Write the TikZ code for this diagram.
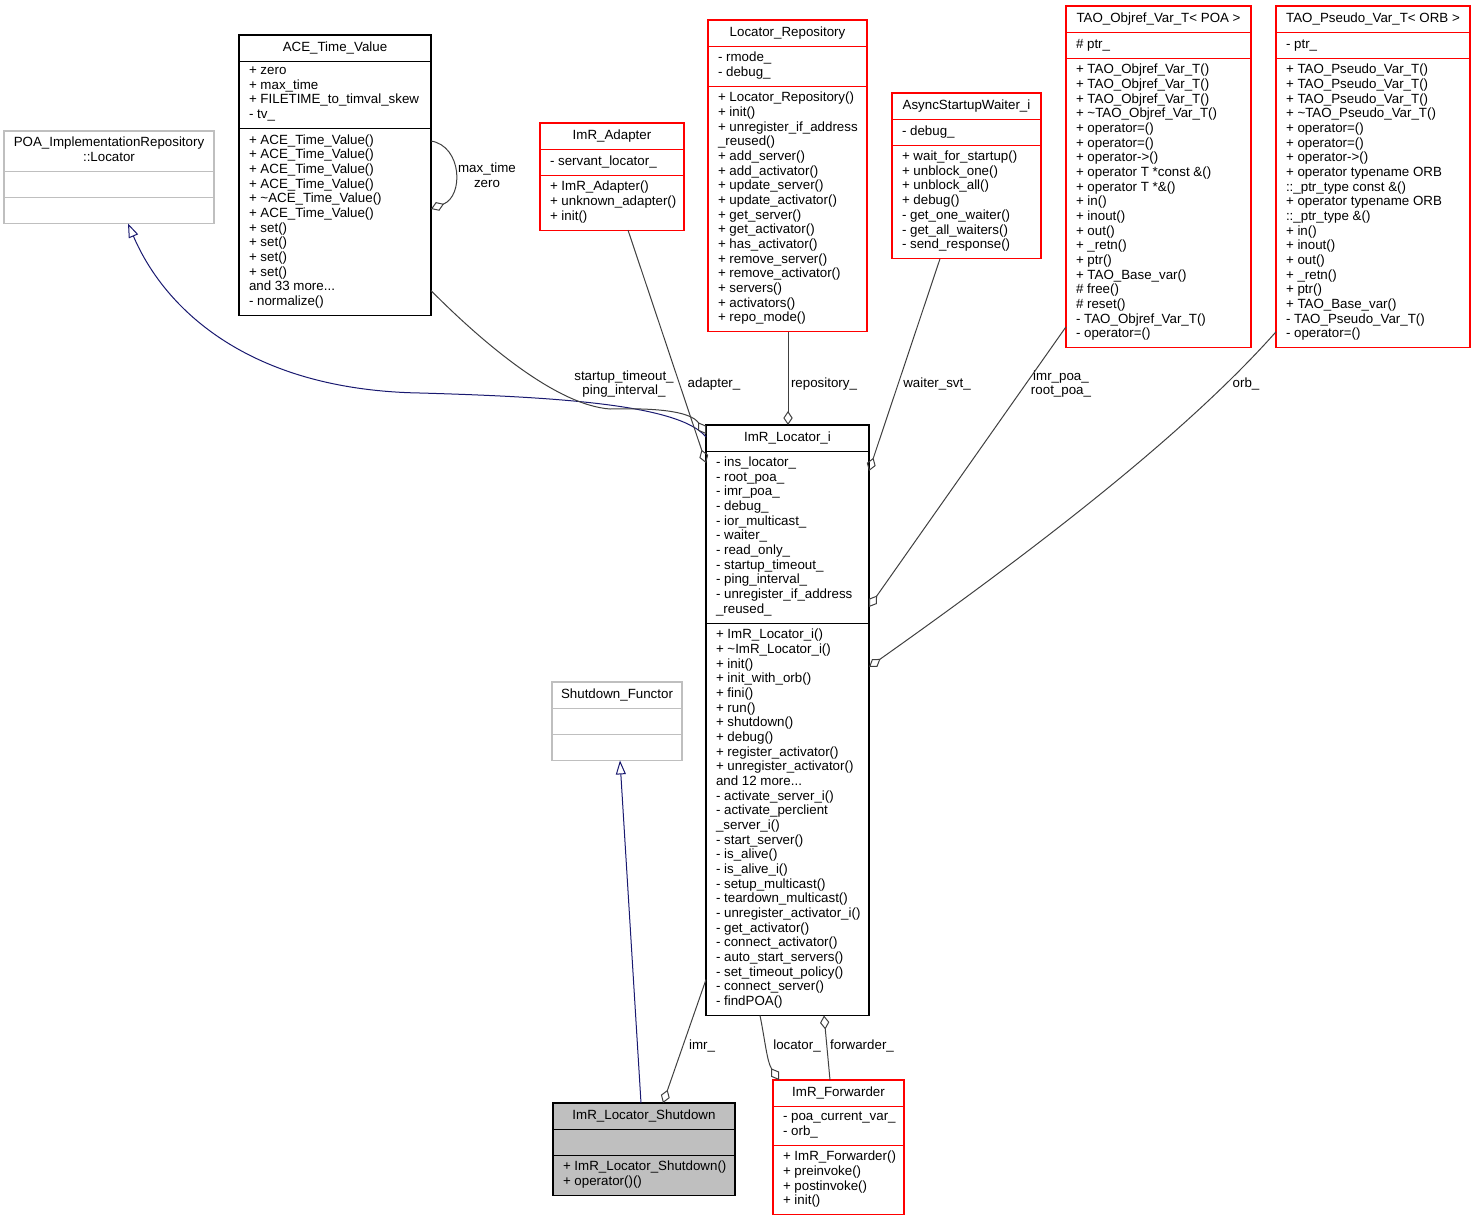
\documentclass[tikz,border=0pt]{standalone}
\usepackage{fontspec}
\setmainfont{Liberation Sans}
\usetikzlibrary{positioning,arrows.meta,calc,fit}
\definecolor{clsred}{HTML}{FF0000}
\definecolor{clsgrey}{HTML}{BFBFBF}
\definecolor{selfill}{HTML}{BFBFBF}
\definecolor{edgegrey}{HTML}{404040}
\definecolor{navyblue}{HTML}{191970}
\pgfdeclarelayer{bg}
\pgfsetlayers{bg,main}

% class box: #1 look, #2 name, #3 x, #4 y, #5 width, #6 title, #7 attributes, #8 methods
\newcommand{\umlclass}[8][]{%
  \coordinate (#2-nw) at (#3,#4);
  \node[ctitle] (#2-t) at (#3+#5/2,#4) {#6};
  \node[ctext] (#2-a) at (#2-t.south -| #2-nw) {#7};
  \node[ctext] (#2-m) at (#2-a.south -| #2-nw) {#8};
  \begin{pgfonlayer}{bg}
    \node[cbox,#1,fit={(#2-nw) (#3+#5,#4) (#2-m.south -| #2-nw)}] (#2) {};
  \end{pgfonlayer}
  \draw[cline,#1] (#2-t.south -| #2.west) -- (#2-t.south -| #2.east);
  \draw[cline,#1] (#2-a.south -| #2.west) -- (#2-a.south -| #2.east);
}

\begin{document}
\begin{tikzpicture}[x=0.75pt, y=-0.75pt,
  ctitle/.style={anchor=north, align=center, inner xsep=0pt, inner ysep=4.3pt, outer sep=0pt,
    font=\fontsize{10}{11}\selectfont, execute at begin node=\strut, execute at end node=\strut},
  ctext/.style={anchor=north west, align=left, inner xsep=7.5pt, inner ysep=4.3pt, outer sep=0pt,
    font=\fontsize{10}{11}\selectfont, execute at begin node=\strut, execute at end node=\strut},
  cbox/.style={draw=black, line width=0.8pt, inner sep=0pt, outer sep=0pt},
  cline/.style={draw=black, line width=0.8pt},
  redcls/.style={draw=clsred},
  greycls/.style={draw=clsgrey},
  selcls/.style={draw=black, fill=selfill},
  member/.style={draw=edgegrey, line width=0.75pt, -{Diamond[open, length=10.5pt, width=7pt]}},
  inherit/.style={draw=navyblue, line width=0.75pt, -{Triangle[open, length=10.5pt, width=7.5pt]}},
  elabel/.style={align=center, inner sep=0pt, font=\fontsize{10}{11}\selectfont}]
\useasboundingbox (0,0) rectangle (1476,1221);

\umlclass[greycls]{poa}{4}{131}{210}{POA\_ImplementationRepository\\::Locator}{}{}
\umlclass{ace}{239}{35}{192}{ACE\_Time\_Value}
  {+ zero\\+ max\_time\\+ FILETIME\_to\_timval\_skew\\- tv\_}
  {+ ACE\_Time\_Value()\\+ ACE\_Time\_Value()\\+ ACE\_Time\_Value()\\+ ACE\_Time\_Value()\\
   + \textasciitilde ACE\_Time\_Value()\\+ ACE\_Time\_Value()\\+ set()\\+ set()\\+ set()\\+ set()\\
   and 33 more...\\- normalize()}
\umlclass[redcls]{adapter}{540}{123}{144}{ImR\_Adapter}
  {- servant\_locator\_}
  {+ ImR\_Adapter()\\+ unknown\_adapter()\\+ init()}
\umlclass[redcls]{repo}{708}{20}{159}{Locator\_Repository}
  {- rmode\_\\- debug\_}
  {+ Locator\_Repository()\\+ init()\\+ unregister\_if\_address\\\_reused()\\+ add\_server()\\
   + add\_activator()\\+ update\_server()\\+ update\_activator()\\+ get\_server()\\+ get\_activator()\\
   + has\_activator()\\+ remove\_server()\\+ remove\_activator()\\+ servers()\\+ activators()\\+ repo\_mode()}
\umlclass[redcls]{waiter}{892}{93}{149}{AsyncStartupWaiter\_i}
  {- debug\_}
  {+ wait\_for\_startup()\\+ unblock\_one()\\+ unblock\_all()\\+ debug()\\- get\_one\_waiter()\\
   - get\_all\_waiters()\\- send\_response()}
\umlclass[redcls]{objref}{1066}{6}{185}{TAO\_Objref\_Var\_T< POA >}
  {\# ptr\_}
  {+ TAO\_Objref\_Var\_T()\\+ TAO\_Objref\_Var\_T()\\+ TAO\_Objref\_Var\_T()\\+ \textasciitilde TAO\_Objref\_Var\_T()\\
   + operator=()\\+ operator=()\\+ operator->()\\+ operator T *const \&()\\+ operator T *\&()\\
   + in()\\+ inout()\\+ out()\\+ \_retn()\\+ ptr()\\+ TAO\_Base\_var()\\\# free()\\\# reset()\\
   - TAO\_Objref\_Var\_T()\\- operator=()}
\umlclass[redcls]{pseudo}{1276}{6}{194}{TAO\_Pseudo\_Var\_T< ORB >}
  {- ptr\_}
  {+ TAO\_Pseudo\_Var\_T()\\+ TAO\_Pseudo\_Var\_T()\\+ TAO\_Pseudo\_Var\_T()\\+ \textasciitilde TAO\_Pseudo\_Var\_T()\\
   + operator=()\\+ operator=()\\+ operator->()\\+ operator typename ORB\\::\_ptr\_type const \&()\\
   + operator typename ORB\\::\_ptr\_type \&()\\+ in()\\+ inout()\\+ out()\\+ \_retn()\\+ ptr()\\
   + TAO\_Base\_var()\\- TAO\_Pseudo\_Var\_T()\\- operator=()}
\umlclass{loc}{706}{425}{163}{ImR\_Locator\_i}
  {- ins\_locator\_\\- root\_poa\_\\- imr\_poa\_\\- debug\_\\- ior\_multicast\_\\- waiter\_\\- read\_only\_\\
   - startup\_timeout\_\\- ping\_interval\_\\- unregister\_if\_address\\\_reused\_}
  {+ ImR\_Locator\_i()\\+ \textasciitilde ImR\_Locator\_i()\\+ init()\\+ init\_with\_orb()\\+ fini()\\+ run()\\
   + shutdown()\\+ debug()\\+ register\_activator()\\+ unregister\_activator()\\and 12 more...\\
   - activate\_server\_i()\\- activate\_perclient\\\_server\_i()\\- start\_server()\\- is\_alive()\\
   - is\_alive\_i()\\- setup\_multicast()\\- teardown\_multicast()\\- unregister\_activator\_i()\\
   - get\_activator()\\- connect\_activator()\\- auto\_start\_servers()\\- set\_timeout\_policy()\\
   - connect\_server()\\- findPOA()}
\umlclass[greycls]{sf}{552}{682}{130}{Shutdown\_Functor}{}{}
\umlclass[selcls]{shut}{553}{1103}{182}{ImR\_Locator\_Shutdown}
  {}
  {+ ImR\_Locator\_Shutdown()\\+ operator()()}
\umlclass[redcls]{fwd}{773}{1080}{131}{ImR\_Forwarder}
  {- poa\_current\_var\_\\- orb\_}
  {+ ImR\_Forwarder()\\+ preinvoke()\\+ postinvoke()\\+ init()}

% inheritance
\draw[inherit] ($(loc.north west)+(0,12)$) .. controls (680,405) and (560,397) .. (420,393)
  .. controls (250,390) and (165,310) .. ($(poa.south west)+(124,0)$);
\draw[inherit] ($(shut.north west)+(88,0)$) -- ($(sf.south west)+(68,0)$);

% members
\draw[member] ($(ace.north east)+(0,106)$) .. controls (462,146) and (464,196) .. ($(ace.north east)+(0,174)$);
\draw[member] ($(ace.south east)+(0,-25)$) .. controls (480,340) and (555,405) .. (610,409)
  .. controls (650,408) and (690,410) .. ($(loc.north west)+(0,9)$);
\draw[member] ($(adapter.south west)+(88,0)$) -- ($(loc.north west)+(0,38)$);
\draw[member] ($(repo.south west)+(80,0)$) -- ($(loc.north west)+(82,0)$);
\draw[member] ($(waiter.south west)+(48,0)$) -- ($(loc.north east)+(0,46)$);
\draw[member] ($(objref.south west)+(0,-21)$) -- ($(loc.north east)+(0,182)$);
\draw[member] ($(pseudo.south west)+(0,-16)$) .. controls (1180,440) and (1020,560) .. ($(loc.north east)+(0,242)$);
\draw[member] ($(loc.south west)+(0,-36)$) -- ($(shut.north west)+(110,0)$);
\draw[member] ($(loc.south west)+(54,0)$) .. controls (765,1040) and (767,1062) .. ($(fwd.north west)+(6,0)$);
\draw[member] ($(fwd.north west)+(57,0)$) -- ($(loc.south west)+(118,0)$);

\node[elabel] (l-self) at (487,175) {max\_time\\zero};
\node[elabel] (l-ace) at (624,384) {startup\_timeout\_\\ping\_interval\_};
\node[elabel] (l-adapter) at (714,384) {adapter\_};
\node[elabel] (l-repo) at (824,384) {repository\_};
\node[elabel] (l-waiter) at (937,384) {waiter\_svt\_};
\node[elabel] (l-objref) at (1061,384) {imr\_poa\_\\root\_poa\_};
\node[elabel] (l-pseudo) at (1246,384) {orb\_};
\node[elabel] (l-imr) at (702,1046) {imr\_};
\node[elabel] (l-locator) at (797,1046) {locator\_};
\node[elabel] (l-fwd) at (862,1046) {forwarder\_};
\end{tikzpicture}
\end{document}
